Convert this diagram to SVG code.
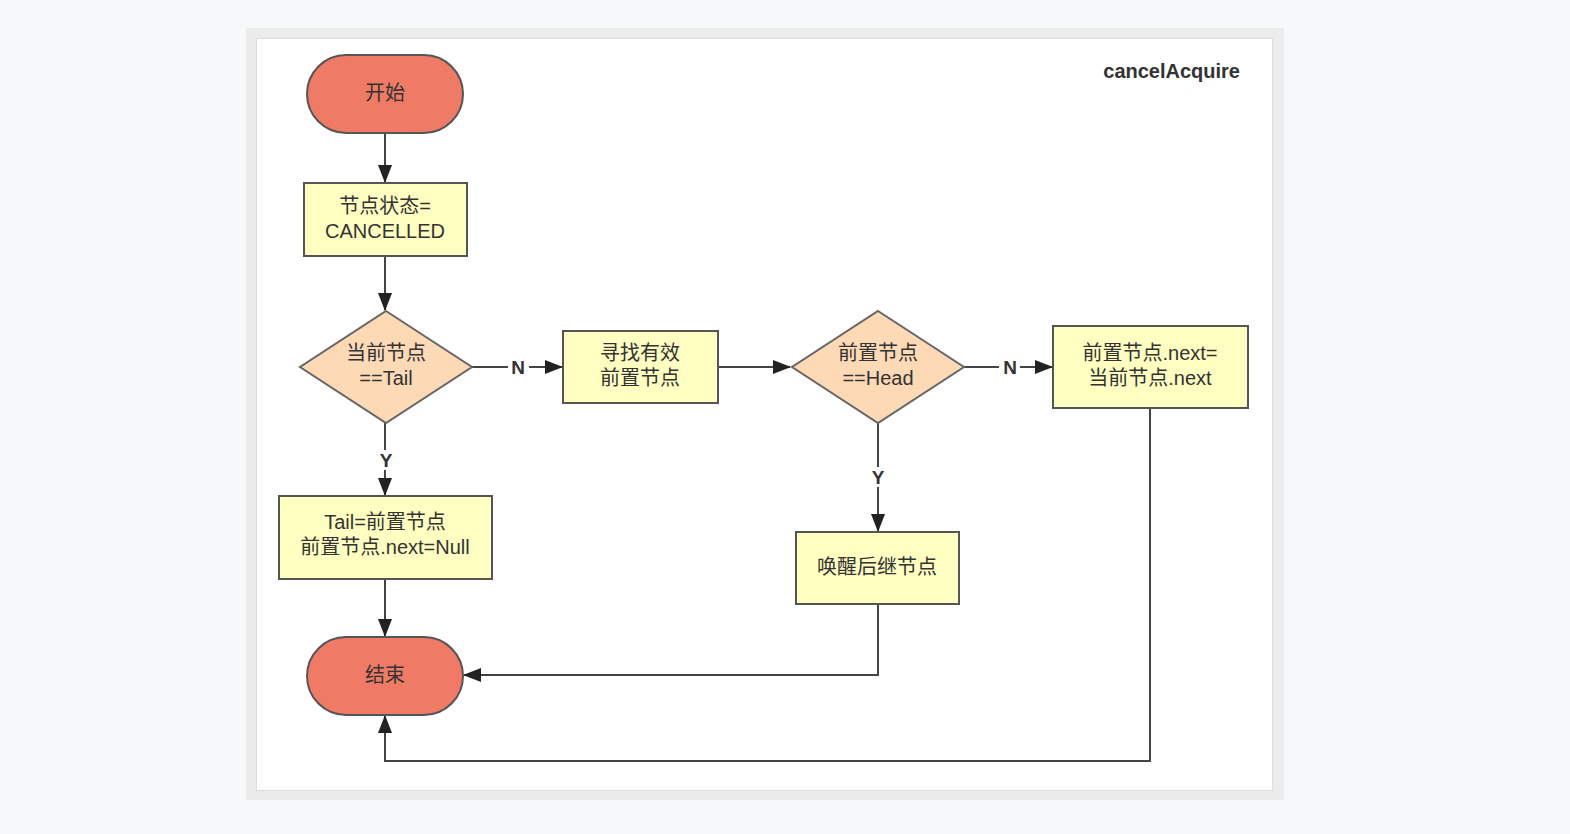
<svg xmlns="http://www.w3.org/2000/svg" width="1570" height="834" viewBox="0 0 1570 834">
<style>
text{font-family:"Liberation Sans","Noto Sans CJK SC",sans-serif;font-size:20px;fill:#333;text-anchor:middle}
.term{fill:#ef7a65;stroke:#555;stroke-width:2}
.box{fill:#ffffc2;stroke:#555;stroke-width:2}
.dec{fill:#fdd9b6;stroke:#666;stroke-width:2}
.ln{fill:none;stroke:#444;stroke-width:2}
.lbl{font-weight:bold;font-size:19px}
</style>
<defs>
<marker id="ah" markerWidth="18" markerHeight="14" refX="17" refY="7" orient="auto" markerUnits="userSpaceOnUse">
<path d="M0,0 L18,7 L0,14 Z" fill="#222"/>
</marker>
</defs>
<rect width="1570" height="834" fill="#f7f8fa"/>
<rect x="246" y="28" width="1038" height="772" fill="#ececec"/>
<rect x="256.5" y="38.5" width="1016" height="752" fill="#fff" stroke="#ddd"/>
<text x="1240" y="78" style="font-weight:bold;text-anchor:end">cancelAcquire</text>

<g id="connectors">
<line class="ln" x1="385" y1="133" x2="385" y2="182" marker-end="url(#ah)"/>
<line class="ln" x1="385" y1="256" x2="385" y2="310" marker-end="url(#ah)"/>
<line class="ln" x1="472" y1="367" x2="508" y2="367"/>
<line class="ln" x1="529" y1="367" x2="562" y2="367" marker-end="url(#ah)"/>
<text class="lbl" x="518" y="374">N</text>
<line class="ln" x1="718" y1="367" x2="790" y2="367" marker-end="url(#ah)"/>
<line class="ln" x1="964" y1="367" x2="999" y2="367"/>
<line class="ln" x1="1020" y1="367" x2="1052" y2="367" marker-end="url(#ah)"/>
<text class="lbl" x="1010" y="374">N</text>
<line class="ln" x1="385" y1="423" x2="385" y2="450"/>
<line class="ln" x1="385" y1="470" x2="385" y2="495" marker-end="url(#ah)"/>
<text class="lbl" x="386" y="467">Y</text>
<line class="ln" x1="385" y1="579" x2="385" y2="636" marker-end="url(#ah)"/>
<line class="ln" x1="878" y1="423" x2="878" y2="467"/>
<line class="ln" x1="878" y1="487" x2="878" y2="531" marker-end="url(#ah)"/>
<text class="lbl" x="878" y="484">Y</text>
<polyline class="ln" points="878,604 878,675 464,675" marker-end="url(#ah)"/>
<polyline class="ln" points="1150,408 1150,761 385,761 385,716" marker-end="url(#ah)"/>
</g>

<g id="start">
<rect class="term" x="307" y="55" width="156" height="78" rx="39"/>
<text x="385" y="100">开始</text>
</g>
<g id="setCancelled">
<rect class="box" x="304" y="183" width="163" height="73"/>
<text x="385" y="213">节点状态=</text>
<text x="385" y="238">CANCELLED</text>
</g>
<g id="isTail">
<polygon class="dec" points="386,311 472,367 386,423 300,367"/>
<text x="386" y="360">当前节点</text>
<text x="386" y="385">==Tail</text>
</g>
<g id="findPrev">
<rect class="box" x="563" y="331" width="155" height="72"/>
<text x="640" y="360">寻找有效</text>
<text x="640" y="385">前置节点</text>
</g>
<g id="isHead">
<polygon class="dec" points="878,311 964,367 878,423 792,367"/>
<text x="878" y="360">前置节点</text>
<text x="878" y="385">==Head</text>
</g>
<g id="linkNext">
<rect class="box" x="1053" y="326" width="195" height="82"/>
<text x="1150" y="360">前置节点.next=</text>
<text x="1150" y="385">当前节点.next</text>
</g>
<g id="setTail">
<rect class="box" x="279" y="496" width="213" height="83"/>
<text x="385" y="529">Tail=前置节点</text>
<text x="385" y="554">前置节点.next=Null</text>
</g>
<g id="wakeSucc">
<rect class="box" x="796" y="532" width="163" height="72"/>
<text x="877" y="574">唤醒后继节点</text>
</g>
<g id="end">
<rect class="term" x="307" y="637" width="156" height="78" rx="39"/>
<text x="385" y="682">结束</text>
</g>
</svg>
